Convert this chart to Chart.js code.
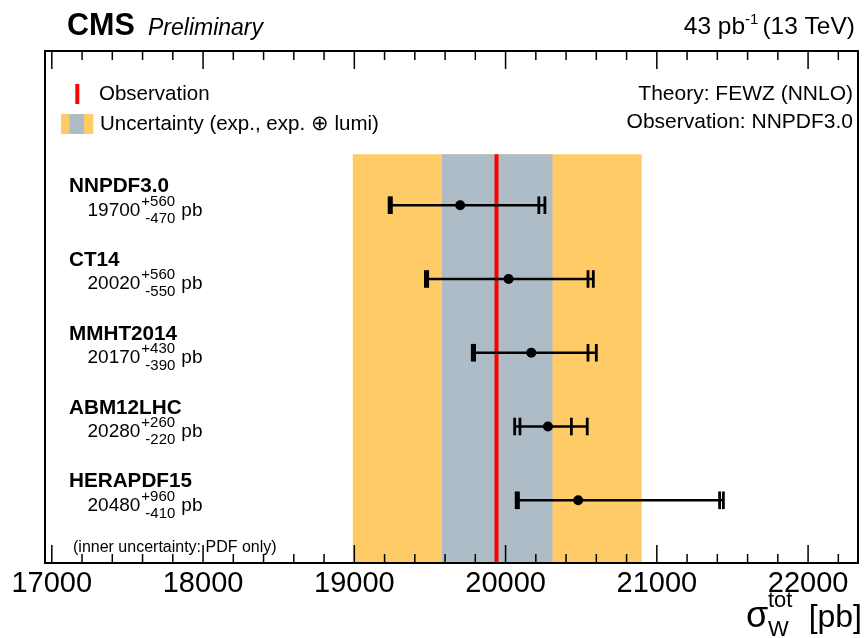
<!DOCTYPE html>
<html>
<head>
<meta charset="utf-8">
<script src="https://cdn.jsdelivr.net/npm/chart.js@4.4.1/dist/chart.umd.min.js"></script>
<style>
  html, body { margin: 0; padding: 0; background: #fff; }
  #wrap { width: 866px; height: 638px; }
</style>
</head>
<body>
<div id="wrap"><canvas id="chart" width="866" height="638"></canvas></div>
<script>
// ===== DATA =====
const pdfNames   = ['NNPDF3.0', 'CT14', 'MMHT2014', 'ABM12LHC', 'HERAPDF15'];
const sigmaTheo  = [19700, 20020, 20170, 20280, 20480];
const errUp      = [560, 560, 430, 260, 960];
const errDown    = [470, 550, 390, 220, 410];
const pdfErrUp   = [520, 525, 375, 155, 935];   // inner (PDF only)
const pdfErrDown = [455, 535, 375, 185, 395];

const obsValue   = 19940;
const expBand    = [19580, 20310];
const lumiBand   = [18990, 20900];

const xTicks     = [17000, 18000, 19000, 20000, 21000, 22000];
const xMinor     = 200;

// ===== STYLE =====
const FONT   = '"Liberation Sans", Arial, Helvetica, sans-serif';
const ORANGE = '#FECB66';
const GRAY   = '#ADBCC6';
const RED    = '#FF0000';
const BAND_TOP = -0.69;

// ===== HELPERS =====
function txt(ctx, s, x, y, size, weight, style, align) {
  ctx.font = (style || 'normal') + ' ' + (weight || 'normal') + ' ' + size + 'px ' + FONT;
  ctx.textAlign = align || 'left';
  ctx.textBaseline = 'alphabetic';
  ctx.fillText(s, x, y);
  return ctx.measureText(s).width;
}
function width(ctx, s, size, weight, style) {
  ctx.font = (style || 'normal') + ' ' + (weight || 'normal') + ' ' + size + 'px ' + FONT;
  return ctx.measureText(s).width;
}

// ===== BANDS + ERROR BARS (under the points) =====
const bandsPlugin = {
  id: 'bands',
  beforeDatasetsDraw(chart) {
    const { ctx, chartArea: a, scales: { x, y } } = chart;
    const top = y.getPixelForValue(BAND_TOP);
    ctx.save();
    const l0 = x.getPixelForValue(lumiBand[0]), l1 = x.getPixelForValue(lumiBand[1]);
    const e0 = x.getPixelForValue(expBand[0]),  e1 = x.getPixelForValue(expBand[1]);
    ctx.fillStyle = ORANGE;
    ctx.fillRect(l0, top, l1 - l0, a.bottom - top);
    ctx.fillStyle = GRAY;
    ctx.fillRect(e0, top, e1 - e0, a.bottom - top);

    const xo = x.getPixelForValue(obsValue);
    ctx.strokeStyle = RED;
    ctx.lineWidth = 4;
    ctx.beginPath(); ctx.moveTo(xo, top); ctx.lineTo(xo, a.bottom); ctx.stroke();

    ctx.strokeStyle = '#000';
    sigmaTheo.forEach((v, i) => {
      const yp = y.getPixelForValue(i);
      const lo = x.getPixelForValue(v - errDown[i]);
      const hi = x.getPixelForValue(v + errUp[i]);
      ctx.lineWidth = 2.5;
      ctx.beginPath(); ctx.moveTo(lo, yp); ctx.lineTo(hi, yp); ctx.stroke();
      ctx.lineWidth = 2.8;
      [v - errDown[i], v - pdfErrDown[i], v + pdfErrUp[i], v + errUp[i]].forEach(c => {
        const cx = x.getPixelForValue(c);
        ctx.beginPath(); ctx.moveTo(cx, yp - 8.8); ctx.lineTo(cx, yp + 8.8); ctx.stroke();
      });
    });
    ctx.restore();
  }
};

// ===== FRAME, TICKS, TEXTS =====
const overlayPlugin = {
  id: 'overlay',
  afterDraw(chart) {
    const { ctx, chartArea: a, scales: { x, y } } = chart;
    ctx.save();
    ctx.fillStyle = '#000';
    ctx.strokeStyle = '#000';

    // ticks (inward, top and bottom)
    ctx.lineWidth = 1.5;
    for (let v = xTicks[0]; v <= x.max; v += xMinor) {
      const px = x.getPixelForValue(v);
      const len = (v % 1000 === 0) ? 18 : 9;
      ctx.beginPath();
      ctx.moveTo(px, a.bottom); ctx.lineTo(px, a.bottom - len);
      ctx.moveTo(px, a.top);    ctx.lineTo(px, a.top + len);
      ctx.stroke();
    }
    // frame
    ctx.lineWidth = 2;
    ctx.strokeRect(a.left, a.top, a.right - a.left, a.bottom - a.top);

    // header
    txt(ctx, 'CMS', 67, 35, 30.5, 'bold');
    txt(ctx, 'Preliminary', 148, 35, 23, 'normal', 'italic');
    const s1 = '43 pb', s2 = '-1', s3 = '(13 TeV)';
    const wTot = width(ctx, s1, 24.5) + width(ctx, s2, 15) + 4 + width(ctx, s3, 24.5);
    let cx = 855 - wTot;
    cx += txt(ctx, s1, cx, 34, 24.5);
    cx += txt(ctx, s2, cx, 24, 15) + 4;
    txt(ctx, s3, cx, 34, 24.5);

    // legend
    ctx.fillStyle = RED;
    ctx.fillRect(75.3, 84, 4, 20);
    ctx.fillStyle = ORANGE;
    ctx.fillRect(61, 114, 32.3, 20);
    ctx.fillStyle = GRAY;
    ctx.fillRect(69.5, 114, 14.5, 20);
    ctx.fillStyle = '#000';
    txt(ctx, 'Observation', 99, 100, 20.5);
    txt(ctx, 'Uncertainty (exp., exp. \u2295 lumi)', 100, 130, 20.5);
    txt(ctx, 'Theory: FEWZ (NNLO)', 853, 100, 21, 'normal', 'normal', 'right');
    txt(ctx, 'Observation: NNPDF3.0', 853, 128, 21, 'normal', 'normal', 'right');

    // row labels
    pdfNames.forEach((n, i) => {
      const yp = y.getPixelForValue(i);
      txt(ctx, n, 69, yp - 13, 20.7, 'bold');
      let lx = 87.5;
      lx += txt(ctx, String(sigmaTheo[i]), lx, yp + 10.5, 19) + 1;
      const wu = txt(ctx, '+' + errUp[i], lx, yp + 0.5, 15);
      const wd = txt(ctx, '-' + errDown[i], lx + 4, yp + 17.5, 15) + 4;
      txt(ctx, 'pb', lx + Math.max(wu, wd) + 6, yp + 10.5, 19);
    });
    txt(ctx, '(inner uncertainty: PDF only)', 73, 552, 16);

    // axis title
    txt(ctx, '\u03C3', 746, 627, 36);
    txt(ctx, 'tot', 768, 606.5, 22);
    txt(ctx, 'W', 768, 636, 22);
    txt(ctx, '[pb]', 862, 627, 32, 'normal', 'normal', 'right');
    ctx.restore();
  }
};

// ===== CHART =====
const ctx = document.getElementById('chart').getContext('2d');
new Chart(ctx, {
  type: 'scatter',
  data: {
    datasets: [{
      data: sigmaTheo.map((v, i) => ({ x: v, y: i })),
      pointRadius: 5,
      pointHoverRadius: 5,
      pointBackgroundColor: '#000',
      pointBorderWidth: 0
    }]
  },
  options: {
    responsive: false,
    animation: false,
    layout: { padding: { left: 45, right: 8, top: 51, bottom: 35 } },
    plugins: { legend: { display: false }, tooltip: { enabled: false } },
    scales: {
      x: {
        type: 'linear',
        min: 16955,
        max: 22330,
        afterBuildTicks: s => { s.ticks = xTicks.map(v => ({ value: v })); },
        afterFit: s => { s.height = 40; },
        grid: { display: false, drawTicks: false },
        border: { display: false },
        ticks: {
          color: '#000', padding: 4, maxRotation: 0, autoSkip: false,
          font: { family: FONT, size: 29 },
          callback: v => String(v)
        }
      },
      y: { type: 'linear', display: false, reverse: true, min: -2.09, max: 4.85 }
    }
  },
  plugins: [bandsPlugin, overlayPlugin]
});
</script>
</body>
</html>
